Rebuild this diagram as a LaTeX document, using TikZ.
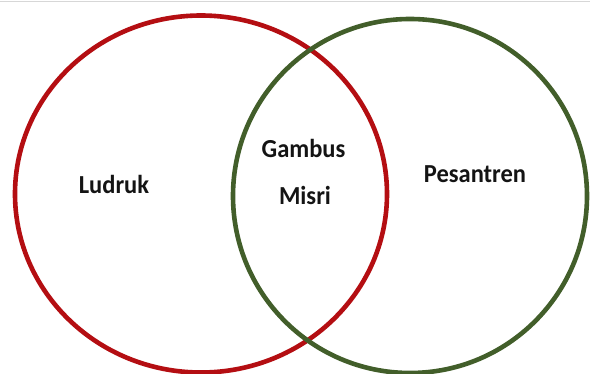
\documentclass[tikz,border=0pt]{standalone}
\usepackage{fontspec}
\setmainfont{Carlito}
\definecolor{vred}{RGB}{180,14,18}
\definecolor{vgreen}{RGB}{66,94,42}
\definecolor{topline}{RGB}{215,215,215}
\begin{document}
\begin{tikzpicture}[x=1pt,y=-1pt,
  ring/.style={line width=4.6pt},
  lbl/.style={font=\bfseries\fontsize{24.5}{28}\selectfont, text=black!92, inner sep=0pt, anchor=base, yscale=1.06}]
\useasboundingbox (0,0) rectangle (590,374);
\fill[white] (0,0) rectangle (590,374);
\draw[topline, line width=1.2pt] (0,1.2) -- (590,1.2);
\draw[ring, vred] (201,194) ellipse [x radius=186, y radius=178.5];
\draw[ring, vgreen] (410,196) circle [radius=177];
\node[lbl] (ludruk) at (114,194) {Ludruk};
\node[lbl] (gambus) at (303.5,158) {Gambus};
\node[lbl] (misri) at (305,205) {Misri};
\node[lbl] (pesantren) at (475,183) {Pesantren};
\end{tikzpicture}
\end{document}
